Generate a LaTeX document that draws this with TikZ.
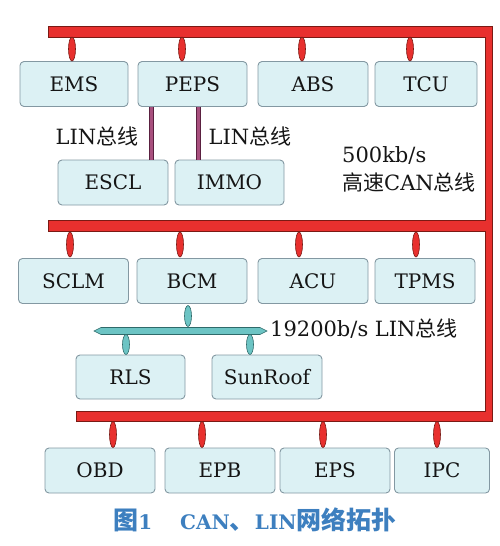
\documentclass[tikz,border=0pt]{standalone}
\usepackage{fontspec}
\setmainfont{DejaVu Serif}
\newfontfamily\cjk{Noto Sans CJK SC}
\usetikzlibrary{shapes.geometric,calc}
\definecolor{busred}{HTML}{E8302E}
\definecolor{busdark}{HTML}{7A1A14}
\definecolor{boxfill}{HTML}{DCF1F4}
\definecolor{boxline}{HTML}{8398A2}
\definecolor{linpurple}{HTML}{A8507E}
\definecolor{lindark}{HTML}{5A2040}
\definecolor{linteal}{HTML}{6CC4C4}
\definecolor{tealdark}{HTML}{2F6A6A}
\definecolor{capblue}{HTML}{3D7FBF}
\definecolor{txt}{HTML}{151515}
\begin{document}
\begin{tikzpicture}[x=1pt,y=-1pt,
 ecu/.style={draw=boxline, fill=boxfill, rounded corners=4pt, line width=0.9pt, minimum height=45pt, inner sep=0pt, text=txt, font=\fontsize{20}{22}\selectfont},
 tap/.style={ellipse, fill=busred, draw=busdark, line width=0.6pt, minimum width=7pt, minimum height=24pt, inner sep=0pt},
 ttap/.style={ellipse, fill=linteal, draw=tealdark, line width=0.6pt, minimum width=7pt, minimum height=21pt, inner sep=0pt},
 linwire/.style={draw=lindark, double=linpurple, double distance=3.6pt, line width=0.6pt},
 lbl/.style={text=txt, font=\fontsize{21}{24}\selectfont, inner sep=0pt}]
\useasboundingbox (0,0) rectangle (499,546);
% CAN bus frame
\filldraw[fill=busred, draw=busdark, line width=0.7pt]
 (48,26) -- (492,26) -- (492,421) -- (76,421) -- (76,411) -- (485,411) -- (485,231)
 -- (48,231) -- (48,220) -- (485,220) -- (485,37) -- (48,37) -- cycle;
% row 1
\node[ecu, minimum width=108pt] (ems)  at (74,84) {EMS};
\node[ecu, minimum width=109pt] (peps) at (192.5,84) {PEPS};
\node[ecu, minimum width=110pt] (abs)  at (313,84) {ABS};
\node[ecu, minimum width=102pt] (tcu)  at (426,84) {TCU};
\node[tap] (t1) at (72,49) {};
\node[tap] (t2) at (182,49) {};
\node[tap] (t3) at (302,49) {};
\node[tap] (t4) at (410,49) {};
% LIN sub-nodes
\node[ecu, minimum width=110pt] (escl) at (113,182.5) {ESCL};
\node[ecu, minimum width=109pt] (immo) at (229.5,182.5) {IMMO};
\draw[linwire] ([xshift=14pt]peps.south west) -- ([xshift=14pt]peps.south west |- escl.north);
\draw[linwire] ([xshift=24pt]immo.north west) -- ([xshift=24pt]immo.north west |- peps.south);
\node[lbl] (l1) at (97,136) {LIN{\cjk 总线}};
\node[lbl] (l2) at (250,136) {LIN{\cjk 总线}};
\node[lbl, anchor=west] (l3) at (342,155) {500kb/s};
\node[lbl, anchor=west] (l4) at (342,182) {{\cjk 高速}CAN{\cjk 总线}};
% row 2
\node[ecu, minimum width=110pt] (sclm) at (73.5,281) {SCLM};
\node[ecu, minimum width=110pt] (bcm)  at (192,281) {BCM};
\node[ecu, minimum width=110pt] (acu)  at (313,281) {ACU};
\node[ecu, minimum width=100pt] (tpms) at (425,281) {TPMS};
\node[tap, minimum height=25pt] (t5) at (70,244.5) {};
\node[tap, minimum height=25pt] (t6) at (180,244.5) {};
\node[tap, minimum height=25pt] (t7) at (299,244.5) {};
\node[tap, minimum height=25pt] (t8) at (416,244.5) {};
% LIN bus
\filldraw[fill=linteal, draw=tealdark, line width=0.6pt]
 (94,331) -- (101,327.5) -- (260,327.5) -- (267,331) -- (260,334.5) -- (101,334.5) -- cycle;
\node[ttap] (t9) at (188,316) {};
\node[lbl, anchor=west] (l5) at (270,329) {19200b/s LIN{\cjk 总线}};
\node[ecu, minimum width=109pt, minimum height=44pt] (rls) at (130.5,377) {RLS};
\node[ecu, minimum width=110pt, minimum height=44pt] (sun) at (267,377) {SunRoof};
\node[ttap, minimum height=20pt] (t10) at (126,344.5) {};
\node[ttap, minimum height=20pt] (t11) at (250,344.5) {};
% row 3
\node[ecu, minimum width=110pt] (obd) at (100,470.5) {OBD};
\node[ecu, minimum width=110pt] (epb) at (220,470.5) {EPB};
\node[ecu, minimum width=110pt] (eps) at (335,470.5) {EPS};
\node[ecu, minimum width=95pt]  (ipc) at (442,470.5) {IPC};
\node[tap, minimum height=26pt] (t12) at (113,434.5) {};
\node[tap, minimum height=26pt] (t13) at (202,434.5) {};
\node[tap, minimum height=26pt] (t14) at (323,434.5) {};
\node[tap, minimum height=26pt] (t15) at (437,434.5) {};
% caption
\node[text=capblue, inner sep=0pt, font=\fontsize{20}{24}\selectfont\bfseries] (cap) at (255,520)
 {{\cjk\fontsize{25}{28}\selectfont 图}1\hspace{28pt}CAN{\cjk\fontsize{25}{28}\selectfont 、}LIN{\cjk\fontsize{25}{28}\selectfont 网络拓扑}};
\end{tikzpicture}
\end{document}
